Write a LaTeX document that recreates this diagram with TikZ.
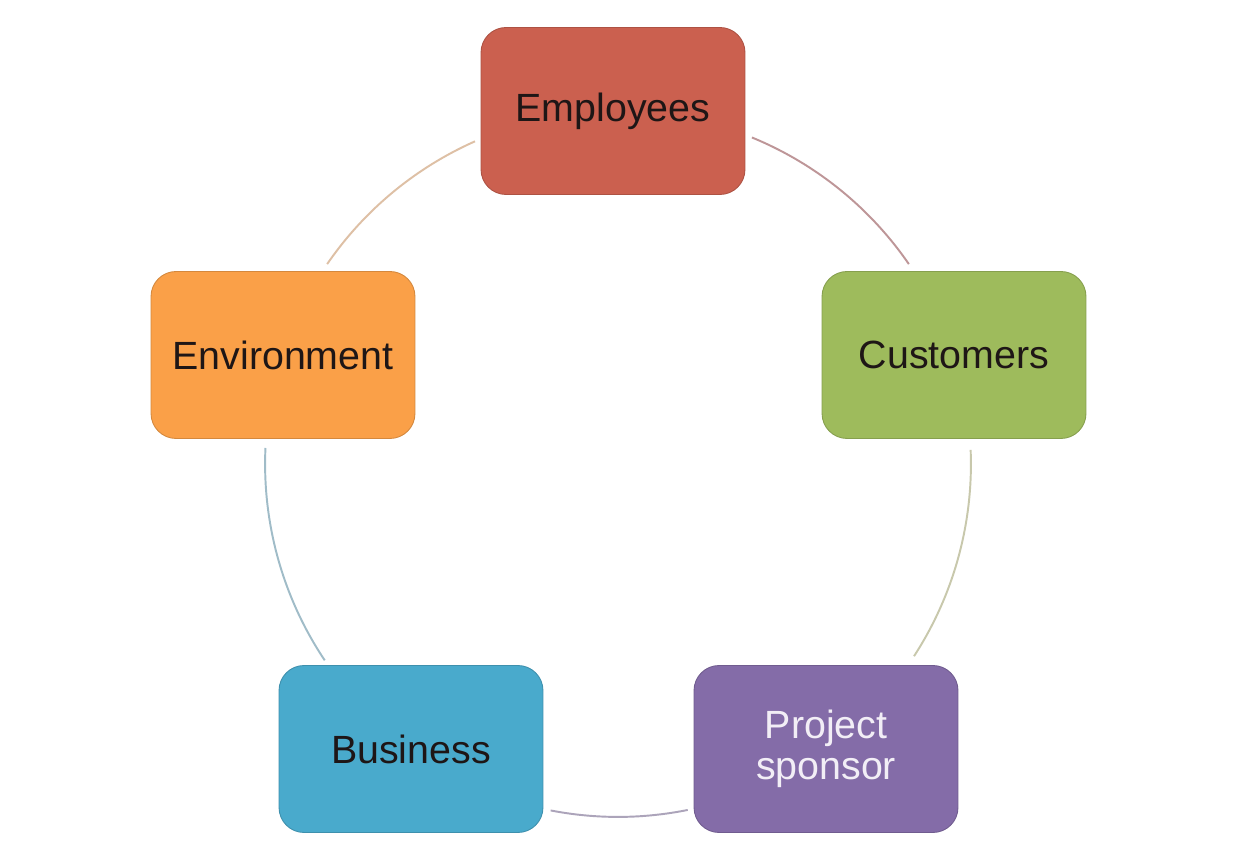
\documentclass[tikz,border=0pt]{standalone}
\usepackage{fontspec}
\setmainfont{Liberation Sans}
\definecolor{cRed}{RGB}{203,96,79}
\definecolor{cGreen}{RGB}{158,187,92}
\definecolor{cPurple}{RGB}{132,108,168}
\definecolor{cBlue}{RGB}{73,170,204}
\definecolor{cOrange}{RGB}{250,160,72}
\definecolor{txt}{RGB}{30,22,22}
\definecolor{aRG}{RGB}{190,150,152}
\definecolor{aGP}{RGB}{200,200,172}
\definecolor{aPB}{RGB}{172,164,186}
\definecolor{aBO}{RGB}{160,188,200}
\definecolor{aOR}{RGB}{222,192,165}
\begin{document}
\begin{tikzpicture}[x=0.02cm,y=0.02cm,
  box/.style={rounded corners=0.5cm, minimum width=5.28cm, minimum height=3.34cm,
    fill=#1, draw=#1!85!black, line width=0.5pt, text=txt, align=center,
    font=\fontsize{22.4}{23}\selectfont, inner sep=0pt},
  link/.style={line width=1.1pt, draw=#1}]
\useasboundingbox[fill=white] (0,0) rectangle (1250,848);
\coordinate (c) at (618,384);
\def\R{7.06cm}
\draw[link=aRG] ([shift={(67.7:\R)}]c) arc[start angle=67.7, end angle=34.5, radius=\R];
\draw[link=aGP] ([shift={(2.3:\R)}]c) arc[start angle=2.3, end angle=-33, radius=\R];
\draw[link=aPB] ([shift={(-78.6:\R)}]c) arc[start angle=-78.6, end angle=-101, radius=\R];
\draw[link=aBO] ([shift={(213.8:\R)}]c) arc[start angle=213.8, end angle=177.4, radius=\R];
\draw[link=aOR] ([shift={(145.5:\R)}]c) arc[start angle=145.5, end angle=113.9, radius=\R];
\node[box=cRed] (emp) at (613,737) {Employees};
\node[box=cGreen] (cus) at (954,493) {Customers};
\node[box=cPurple, text={rgb,255:red,242;green,238;blue,246}] (spo) at (826,99) {Project\\sponsor};
\node[box=cBlue] (bus) at (411,99) {Business};
\node[box=cOrange] (env) at (283,493) {Environment};
\end{tikzpicture}
\end{document}
